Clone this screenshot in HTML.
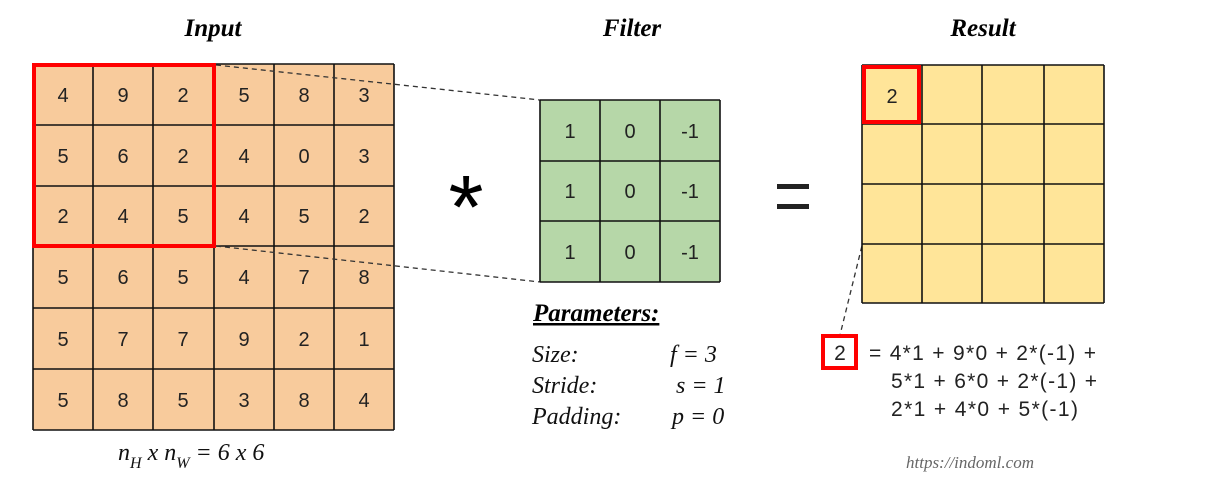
<!DOCTYPE html>
<html><head><meta charset="utf-8"><style>
html,body{margin:0;padding:0;background:#fff;width:1213px;height:496px;overflow:hidden}
svg text{font-family:"Liberation Sans",sans-serif}
svg text.s, svg .s text{font-family:"Liberation Serif",serif;font-style:italic}
</style></head><body>
<svg width="1213" height="496" viewBox="0 0 1213 496" xmlns="http://www.w3.org/2000/svg">
<text x="213" y="36" text-anchor="middle" class="s" font-weight="bold" font-size="25">Input</text>
<text x="632" y="36" text-anchor="middle" class="s" font-weight="bold" font-size="25">Filter</text>
<text x="983" y="36" text-anchor="middle" class="s" font-weight="bold" font-size="25">Result</text>

<rect x="33" y="64" width="361" height="366" fill="#f8cb9c"/>
<g stroke="#111" stroke-width="1.6">
<line x1="33" y1="64" x2="394" y2="64"/><line x1="33" y1="125" x2="394" y2="125"/><line x1="33" y1="186" x2="394" y2="186"/><line x1="33" y1="246" x2="394" y2="246"/><line x1="33" y1="308" x2="394" y2="308"/><line x1="33" y1="369" x2="394" y2="369"/><line x1="33" y1="430" x2="394" y2="430"/>
<line x1="33" y1="64" x2="33" y2="430"/><line x1="93" y1="64" x2="93" y2="430"/><line x1="153" y1="64" x2="153" y2="430"/><line x1="214" y1="64" x2="214" y2="430"/><line x1="274" y1="64" x2="274" y2="430"/><line x1="334" y1="64" x2="334" y2="430"/><line x1="394" y1="64" x2="394" y2="430"/>
</g>
<g font-size="20" fill="#222" text-anchor="middle">
<text x="63" y="102">4</text><text x="123" y="102">9</text><text x="183" y="102">2</text><text x="244" y="102">5</text><text x="304" y="102">8</text><text x="364" y="102">3</text>
<text x="63" y="163">5</text><text x="123" y="163">6</text><text x="183" y="163">2</text><text x="244" y="163">4</text><text x="304" y="163">0</text><text x="364" y="163">3</text>
<text x="63" y="223">2</text><text x="123" y="223">4</text><text x="183" y="223">5</text><text x="244" y="223">4</text><text x="304" y="223">5</text><text x="364" y="223">2</text>
<text x="63" y="284">5</text><text x="123" y="284">6</text><text x="183" y="284">5</text><text x="244" y="284">4</text><text x="304" y="284">7</text><text x="364" y="284">8</text>
<text x="63" y="346">5</text><text x="123" y="346">7</text><text x="183" y="346">7</text><text x="244" y="346">9</text><text x="304" y="346">2</text><text x="364" y="346">1</text>
<text x="63" y="407">5</text><text x="123" y="407">8</text><text x="183" y="407">5</text><text x="244" y="407">3</text><text x="304" y="407">8</text><text x="364" y="407">4</text>
</g>
<rect x="34" y="65" width="180" height="181" fill="none" stroke="#f00" stroke-width="4"/>

<g stroke="#333" stroke-width="1.3" stroke-dasharray="5,4" fill="none">
<line x1="216" y1="65" x2="540" y2="100"/>
<line x1="216" y1="246" x2="540" y2="282"/>
<line x1="892" y1="124" x2="840" y2="335"/>
</g>

<text x="466" y="238" text-anchor="middle" font-size="90" fill="#000">*</text>
<rect x="777" y="184" width="32" height="5" fill="#222"/>
<rect x="777" y="204" width="32" height="5" fill="#222"/>

<rect x="540" y="100" width="180" height="182" fill="#b6d7a8"/>
<g stroke="#111" stroke-width="1.6">
<line x1="540" y1="100" x2="720" y2="100"/><line x1="540" y1="161" x2="720" y2="161"/><line x1="540" y1="221" x2="720" y2="221"/><line x1="540" y1="282" x2="720" y2="282"/>
<line x1="540" y1="100" x2="540" y2="282"/><line x1="600" y1="100" x2="600" y2="282"/><line x1="660" y1="100" x2="660" y2="282"/><line x1="720" y1="100" x2="720" y2="282"/>
</g>
<g font-size="20" fill="#222" text-anchor="middle">
<text x="570" y="138">1</text><text x="630" y="138">0</text><text x="690" y="138">-1</text>
<text x="570" y="198">1</text><text x="630" y="198">0</text><text x="690" y="198">-1</text>
<text x="570" y="259">1</text><text x="630" y="259">0</text><text x="690" y="259">-1</text>
</g>

<rect x="862" y="65" width="242" height="238" fill="#ffe599"/>
<g stroke="#111" stroke-width="1.6">
<line x1="862" y1="65" x2="1104" y2="65"/><line x1="862" y1="124" x2="1104" y2="124"/><line x1="862" y1="184" x2="1104" y2="184"/><line x1="862" y1="244" x2="1104" y2="244"/><line x1="862" y1="303" x2="1104" y2="303"/>
<line x1="862" y1="65" x2="862" y2="303"/><line x1="922" y1="65" x2="922" y2="303"/><line x1="982" y1="65" x2="982" y2="303"/><line x1="1044" y1="65" x2="1044" y2="303"/><line x1="1104" y1="65" x2="1104" y2="303"/>
</g>
<rect x="864" y="67" width="55" height="55" fill="none" stroke="#f00" stroke-width="4"/>
<text x="892" y="103" text-anchor="middle" font-size="20" fill="#222">2</text>

<rect x="823" y="336" width="33" height="32" fill="#fff" stroke="#f00" stroke-width="4"/>
<text x="840" y="360" text-anchor="middle" font-size="21" fill="#222">2</text>
<g font-size="21" fill="#222">
<text x="869" y="360" textLength="227" lengthAdjust="spacing">= 4*1 + 9*0 + 2*(-1) +</text>
<text x="891" y="388" textLength="206" lengthAdjust="spacing">5*1 + 6*0 + 2*(-1) +</text>
<text x="891" y="416" textLength="187" lengthAdjust="spacing">2*1 + 4*0 + 5*(-1)</text>
</g>

<text x="533" y="321" class="s" font-weight="bold" font-size="25" text-decoration="underline">Parameters:</text>
<g class="s" font-size="24" fill="#111">
<text x="532" y="362">Size:</text><text x="670" y="362">f = 3</text>
<text x="532" y="393">Stride:</text><text x="676" y="393">s = 1</text>
<text x="532" y="424">Padding:</text><text x="672" y="424">p = 0</text>
</g>

<text x="118" y="460" class="s" font-size="24" fill="#111">n<tspan font-size="16" dy="8">H</tspan><tspan dy="-8"> x n</tspan><tspan font-size="16" dy="8">W</tspan><tspan dy="-8"> =  6 x 6</tspan></text>

<text x="906" y="468" class="s" font-size="17" fill="#666">https://indoml.com</text>
</svg>
</body></html>
